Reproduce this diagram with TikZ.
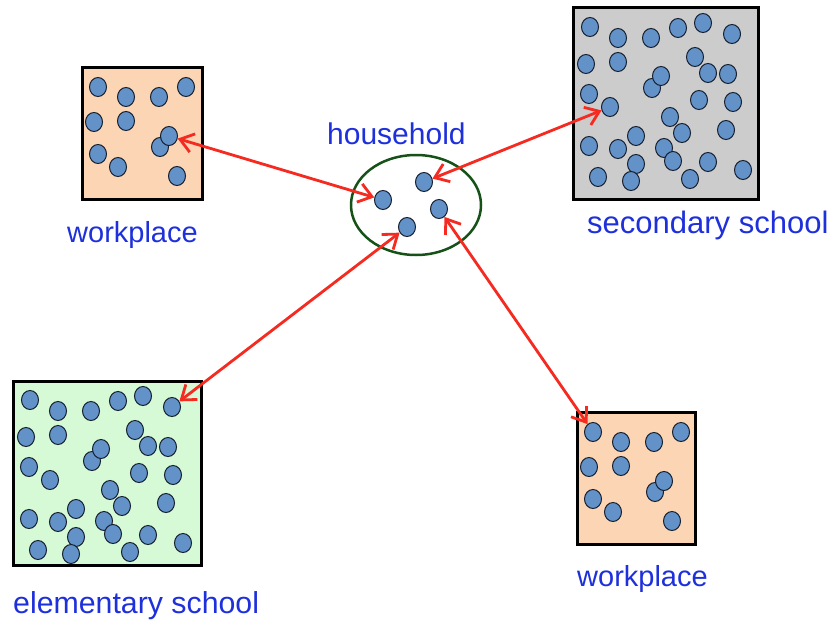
\documentclass[tikz,border=0pt]{standalone}
\usepackage{fontspec}
\setmainfont{Liberation Sans}
\usetikzlibrary{shapes.geometric,arrows.meta}

\definecolor{dotfill}{RGB}{98,146,200}
\definecolor{dotline}{RGB}{22,32,48}
\definecolor{peach}{RGB}{252,213,180}
\definecolor{greybox}{RGB}{204,204,204}
\definecolor{mint}{RGB}{213,250,213}
\definecolor{homegreen}{RGB}{22,82,24}
\definecolor{linkred}{RGB}{245,42,32}
\definecolor{labelblue}{RGB}{30,48,220}

\tikzset{
  person/.style={ellipse, draw=dotline, fill=dotfill, line width=1pt,
    minimum width=17pt, minimum height=19pt, inner sep=0pt},
  site/.style={draw=black, line width=3pt},
  home/.style={ellipse, draw=homegreen, line width=2.5pt,
    minimum width=130pt, minimum height=100pt, inner sep=0pt},
  link/.style={draw=linkred, line width=2.8pt,
    {Straight Barb[length=13pt,width=19pt]}-{Straight Barb[length=13pt,width=19pt]}},
  caption/.style={text=labelblue, anchor=base west, inner sep=0pt},
  capsize/.style={font=\fontsize{#1}{#1}\selectfont}
}

% people at a workplace, relative to the box corner
\newcommand{\workdots}[1]{%
  \foreach \dx/\dy [count=\i] in {16/20,44/30,77/30,104/20,12/55,44/54,78/80,87/69,16/87,36/100,95/109}
    \node[person] (#1\i) at (\dx,\dy) {};}
% pupils at a school, relative to the box corner
\newcommand{\schooldots}[1]{%
  \foreach \dx/\dy [count=\i] in {18/20,46/31,79/31,106/21,131/16,160/27,14/57,46/55,123/50,136/66,156/67,80/81,89/69,17/87,38/100,127/93,161/95,98/110,110/126,154/123,64/129,17/139,46/142,92/141,101/154,64/157,136/155,171/163,26/170,59/174,118/172}
    \node[person] (#1\i) at (\dx,\dy) {};}

\begin{document}
\begin{tikzpicture}[x=1pt,y=-1pt]
  \useasboundingbox (0,0) rectangle (834,626);
  \fill[white] (0,0) rectangle (834,626);

  % workplace, top left
  \filldraw[site, fill=peach] (82,67) rectangle (202,199);
  \begin{scope}[shift={(82,67)}]\workdots{wa}\end{scope}
  \node[caption, capsize=29] (lwa) at (67,242) {workplace};

  % secondary school
  \filldraw[site, fill=greybox] (573,8) rectangle (758,199);
  \begin{scope}[shift={(572,7)}]\schooldots{sec}\end{scope}
  \node[caption, capsize=31] (lsec) at (587,233) {secondary school};

  % elementary school
  \filldraw[site, fill=mint] (13,381) rectangle (201,565);
  \begin{scope}[shift={(12,380)}]\schooldots{ele}\end{scope}
  \node[caption, capsize=30.3] (lele) at (13,613) {elementary school};

  % workplace, bottom right
  \filldraw[site, fill=peach] (577,412) rectangle (695,544);
  \begin{scope}[shift={(577,412)}]\workdots{wb}\end{scope}
  \node[caption, capsize=29] (lwb) at (577,586) {workplace};

  % household
  \node[home] (hh) at (416,205) {};
  \node[caption, capsize=30] (lhh) at (327,144) {household};
  \node[person] (ha) at (383,200) {};
  \node[person] (hb) at (424,182) {};
  \node[person] (hc) at (439,209) {};
  \node[person] (hd) at (407,227) {};

  % contacts between household members and their other places
  \draw[link] (wa8) -- (ha);
  \draw[link] (hb) -- (sec15);
  \draw[link] (hd) -- (ele6);
  \draw[link] (hc) -- (wb1);
\end{tikzpicture}
\end{document}
